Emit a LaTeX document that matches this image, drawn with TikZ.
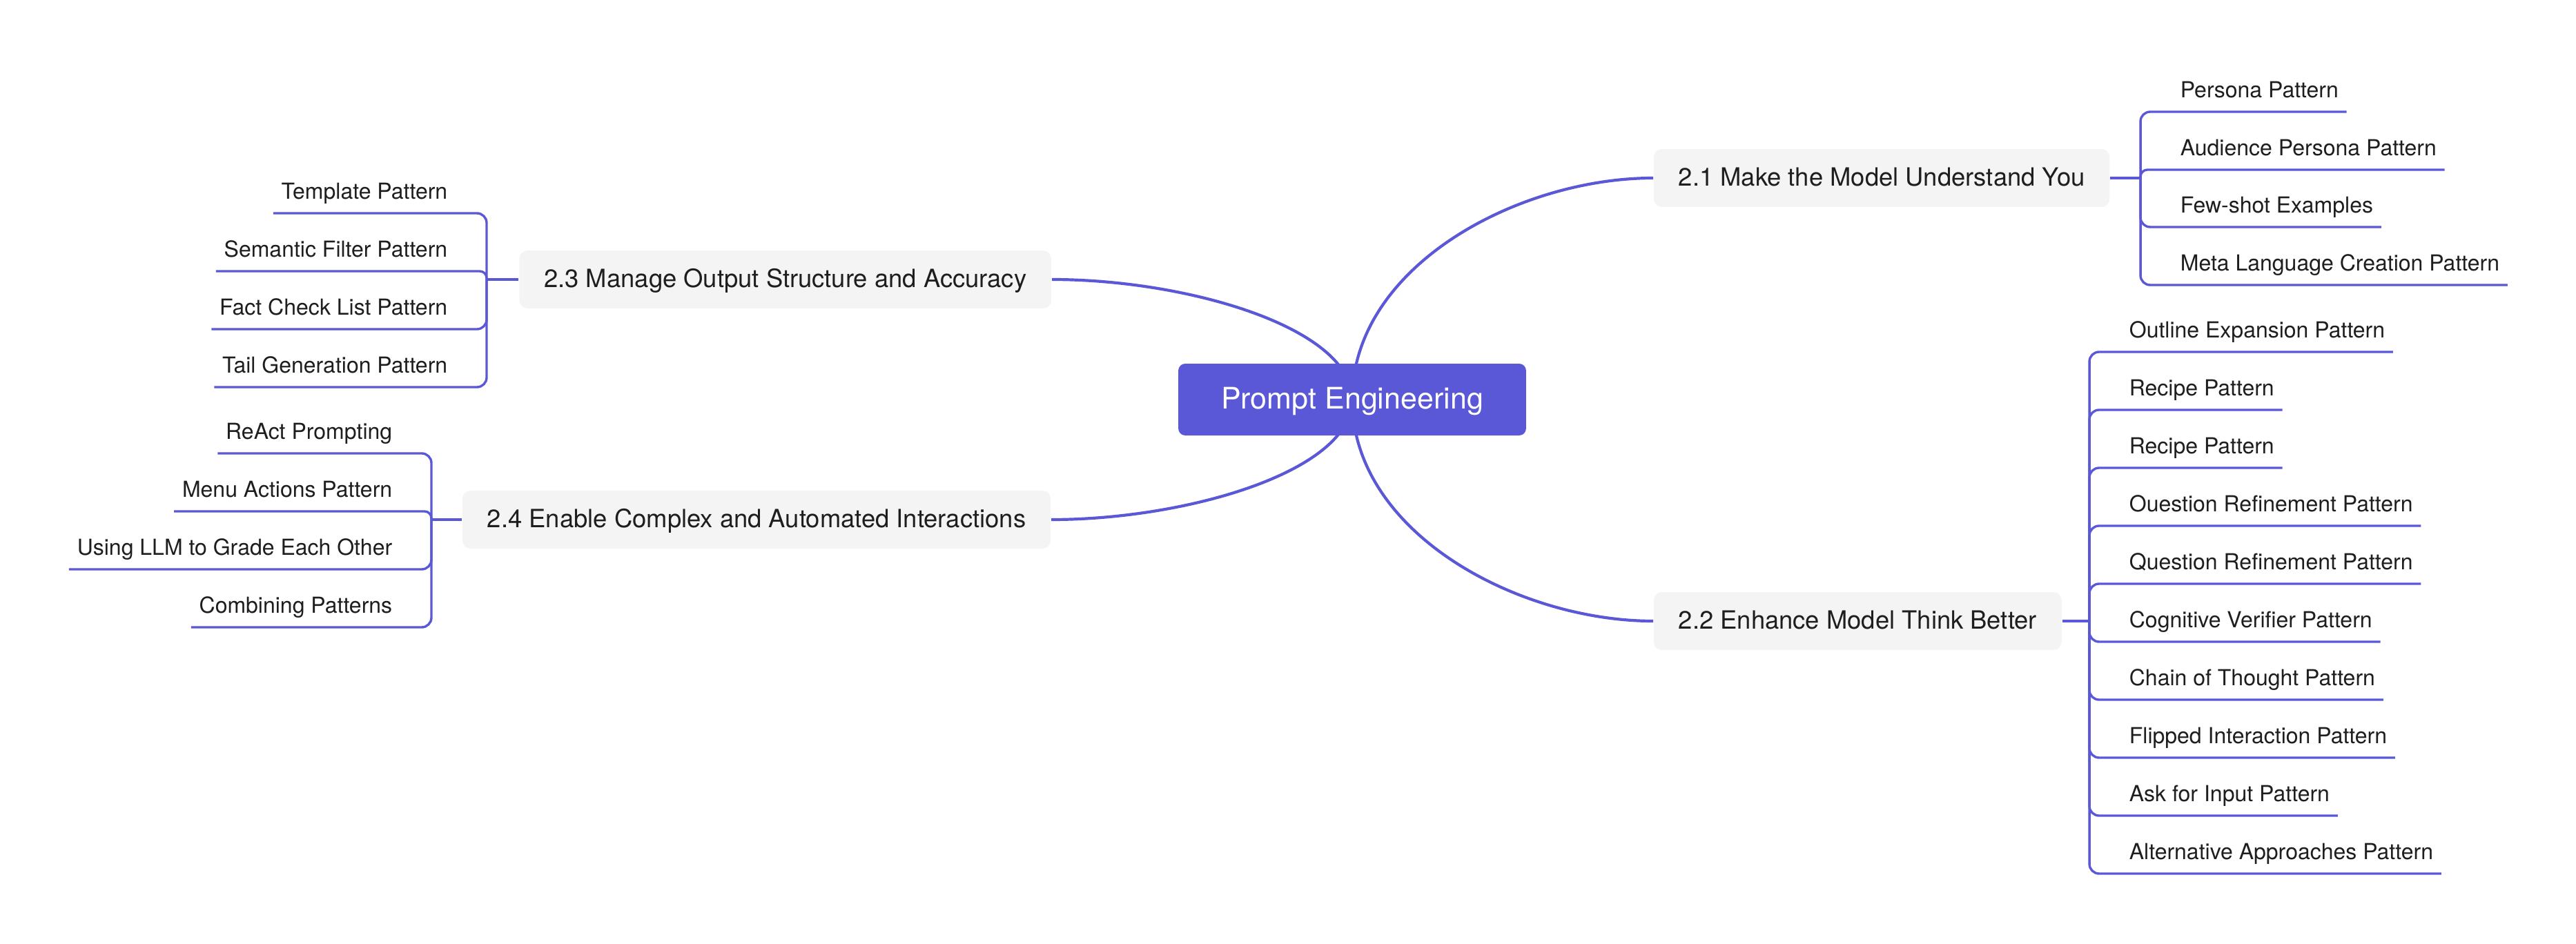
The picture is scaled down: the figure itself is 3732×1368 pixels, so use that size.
\documentclass[tikz,border=0pt]{standalone}
\usepackage{fontspec}
\setmainfont{TeX Gyre Heros}
\definecolor{brand}{HTML}{5A58D6}
\definecolor{branchfill}{HTML}{F4F4F4}
\definecolor{ink}{HTML}{1E1E1E}
\pgfdeclarelayer{bg}
\pgfsetlayers{bg,main}
\begin{document}
\begin{tikzpicture}[x=0.25pt,y=-0.25pt,
  rootbox/.style={fill=brand, text=white, rounded corners=2.5pt,
    font=\fontsize{10.75pt}{13pt}\selectfont, inner xsep=15.5pt, inner ysep=0pt,
    minimum height=26pt, text height=6.5pt, text depth=0pt},
  branchbox/.style={fill=branchfill, text=ink, rounded corners=3pt,
    font=\fontsize{9.1pt}{11pt}\selectfont, inner xsep=9pt, inner ysep=0pt,
    minimum height=21pt, text height=5.6pt, text depth=0pt},
  leafnode/.style={text=ink, font=\fontsize{8pt}{10pt}\selectfont,
    inner xsep=2.75pt, inner ysep=5pt, text height=5.8pt, text depth=0pt},
  mainline/.style={draw=brand, line width=1.05pt},
  leafline/.style={draw=brand, line width=0.85pt, rounded corners=3.5pt},
  nearline/.style={draw=brand, line width=0.85pt, rounded corners=2.5pt},
]
\useasboundingbox (0,0) rectangle (3732,1368);

% root and branches
\node[rootbox] (root) at (1959,579) {Prompt Engineering};
\node[branchbox, anchor=west] (b21) at (2395,258) {2.1 Make the Model Understand You};
\node[branchbox, anchor=west] (b22) at (2395,900) {2.2 Enhance Model Think Better};
\node[branchbox, anchor=east] (b23) at (1524,405) {2.3 Manage Output Structure and Accuracy};
\node[branchbox, anchor=east] (b24) at (1523,753) {2.4 Enable Complex and Automated Interactions};

\begin{pgfonlayer}{bg}
\draw[mainline] (b21.west) .. controls +(-196,0) and +(0,-193) .. (root.center);
\draw[mainline] (b22.west) .. controls +(-196,0) and +(0,193) .. (root.center);
\draw[mainline] (b23.east) .. controls +(196,0) and +(0,-104) .. (root.center);
\draw[mainline] (b24.east) .. controls +(196,0) and +(0,104) .. (root.center);
\end{pgfonlayer}

% bar junctions
\coordinate (j21) at (3101,258);
\coordinate (j22) at (3027,900);
\coordinate (j23) at (705,405);
\coordinate (j24) at (625,753);
\draw[leafline] (b21.east) -- (j21);
\draw[leafline] (b22.east) -- (j22);
\draw[leafline] (b23.west) -- (j23);
\draw[leafline] (b24.west) -- (j24);

% 2.1 leaves
\node[leafnode, anchor=south west] (a1) at (3147,162) {Persona Pattern};
\node[leafnode, anchor=south west] (a2) at (3147,246) {Audience Persona Pattern};
\node[leafnode, anchor=south west] (a3) at (3147,329) {Few-shot Examples};
\node[leafnode, anchor=south west] (a4) at (3147,413) {Meta Language Creation Pattern};
\draw[leafline] (j21) |- (a1.south west) -- (a1.south east);
\draw[nearline] (j21) |- (a2.south west) -- (a2.south east);
\draw[leafline] (j21) |- (a3.south west) -- (a3.south east);
\draw[leafline] (j21) |- (a4.south west) -- (a4.south east);

% 2.2 leaves
\node[leafnode, anchor=south west] (c1) at (3073,510) {Outline Expansion Pattern};
\node[leafnode, anchor=south west] (c2) at (3073,594) {Recipe Pattern};
\node[leafnode, anchor=south west] (c3) at (3073,678) {Recipe Pattern};
\node[leafnode, anchor=south west] (c4) at (3073,762) {Ouestion Refinement Pattern};
\node[leafnode, anchor=south west] (c5) at (3073,846) {Question Refinement Pattern};
\node[leafnode, anchor=south west] (c6) at (3073,930) {Cognitive Verifier Pattern};
\node[leafnode, anchor=south west] (c7) at (3073,1014) {Chain of Thought Pattern};
\node[leafnode, anchor=south west] (c8) at (3073,1098) {Flipped Interaction Pattern};
\node[leafnode, anchor=south west] (c9) at (3073,1182) {Ask for Input Pattern};
\node[leafnode, anchor=south west] (c10) at (3073,1266) {Alternative Approaches Pattern};
\foreach \n in {c1,c2,c3,c4,c5,c6,c7,c8,c9,c10}
  \draw[leafline] (j22) |- (\n.south west) -- (\n.south east);

% 2.3 leaves
\node[leafnode, anchor=south east] (d1) at (660,309) {Template Pattern};
\node[leafnode, anchor=south east] (d2) at (660,393) {Semantic Filter Pattern};
\node[leafnode, anchor=south east] (d3) at (660,477) {Fact Check List Pattern};
\node[leafnode, anchor=south east] (d4) at (660,561) {Tail Generation Pattern};
\draw[leafline] (j23) |- (d1.south east) -- (d1.south west);
\draw[nearline] (j23) |- (d2.south east) -- (d2.south west);
\draw[leafline] (j23) |- (d3.south east) -- (d3.south west);
\draw[leafline] (j23) |- (d4.south east) -- (d4.south west);

% 2.4 leaves
\node[leafnode, anchor=south east] (e1) at (580,657) {ReAct Prompting};
\node[leafnode, anchor=south east] (e2) at (580,741) {Menu Actions Pattern};
\node[leafnode, anchor=south east] (e3) at (580,825) {Using LLM to Grade Each Other};
\node[leafnode, anchor=south east] (e4) at (580,909) {Combining Patterns};
\draw[leafline] (j24) |- (e1.south east) -- (e1.south west);
\draw[nearline] (j24) |- (e2.south east) -- (e2.south west);
\draw[leafline] (j24) |- (e3.south east) -- (e3.south west);
\draw[leafline] (j24) |- (e4.south east) -- (e4.south west);
\end{tikzpicture}
\end{document}
